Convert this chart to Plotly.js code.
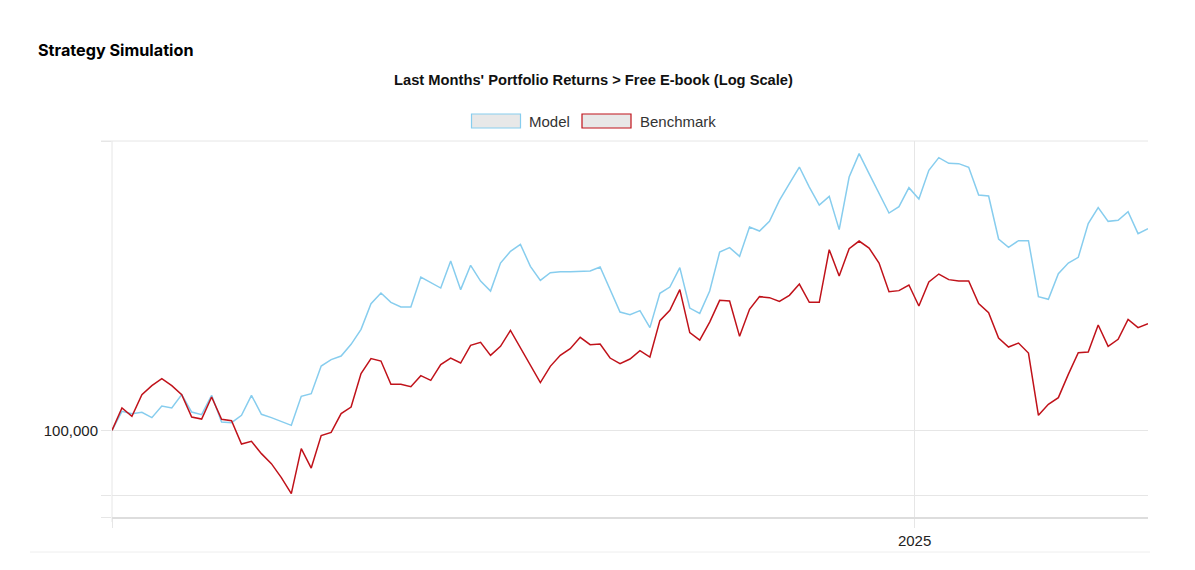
<!DOCTYPE html>
<html>
<head>
<meta charset="utf-8">
<script src="https://cdn.plot.ly/plotly-3.0.1.min.js"></script>
<style>
  html, body { margin: 0; padding: 0; background: #ffffff; }
  #chart { width: 1195px; height: 570px; }
</style>
</head>
<body>
<div id="chart"></div>
<script>
// ---- Data (weekly observations) ----
const dates = [
  "2023-06-17","2023-06-24","2023-07-01","2023-07-08","2023-07-15","2023-07-22","2023-07-29",
  "2023-08-05","2023-08-12","2023-08-19","2023-08-26","2023-09-02","2023-09-09","2023-09-16",
  "2023-09-23","2023-09-30","2023-10-07","2023-10-14","2023-10-21","2023-10-28","2023-11-04",
  "2023-11-11","2023-11-18","2023-11-25","2023-12-02","2023-12-09","2023-12-16","2023-12-23",
  "2023-12-30","2024-01-06","2024-01-13","2024-01-20","2024-01-27","2024-02-03","2024-02-10",
  "2024-02-17","2024-02-24","2024-03-02","2024-03-09","2024-03-16","2024-03-23","2024-03-30",
  "2024-04-06","2024-04-13","2024-04-20","2024-04-27","2024-05-04","2024-05-11","2024-05-18",
  "2024-05-25","2024-06-01","2024-06-08","2024-06-15","2024-06-22","2024-06-29","2024-07-06",
  "2024-07-13","2024-07-20","2024-07-27","2024-08-03","2024-08-10","2024-08-17","2024-08-24",
  "2024-08-31","2024-09-07","2024-09-14","2024-09-21","2024-09-28","2024-10-05","2024-10-12",
  "2024-10-19","2024-10-26","2024-11-02","2024-11-09","2024-11-16","2024-11-23","2024-11-30",
  "2024-12-07","2024-12-14","2024-12-21","2024-12-28","2025-01-04","2025-01-11","2025-01-18",
  "2025-01-25","2025-02-01","2025-02-08","2025-02-15","2025-02-22","2025-03-01","2025-03-08",
  "2025-03-15","2025-03-22","2025-03-29","2025-04-05","2025-04-12","2025-04-19","2025-04-26",
  "2025-05-03","2025-05-10","2025-05-17","2025-05-24","2025-05-31","2025-06-07","2025-06-14"
];

const modelValues = [
  100000,103113,102732,102947,102070,103999,103664,105930,102997,102566,
  105810,101348,101250,102450,105810,102616,102070,101414,100810,105639,
  106101,110932,112084,112737,114888,117701,122684,124801,122942,122013,
  122013,128065,126913,125812,131413,125487,130504,127240,125204,130990,
  133486,135003,130294,127384,128976,129185,129185,129185,129310,130147,
  125548,121033,120525,121306,118025,124740,126015,130021,121816,120778,
  125204,133335,134285,132414,138825,137931,140107,144937,148896,152938,
  148081,143841,145875,138243,150490,156280,151317,146749,141997,143470,
  147938,145242,152126,155275,153853,153779,152864,146182,145947,136162,
  134351,135811,135811,124078,123538,128768,130990,132200,139588,143239,
  140107,140334,142317,137354,138465
];

const benchmarkValues = [
  100000,103664,102285,105930,107480,108700,107480,105930,102169,101840,
  105520,101791,101577,97813,98241,96310,94769,92652,90290,97090,
  94098,99148,99678,102732,103832,109581,112266,111832,107705,107705,
  107306,109227,108402,111183,112374,111471,114701,115258,112865,114516,
  117511,114276,111058,108001,110879,112865,114092,116191,114831,114942,
  112374,111364,112194,113724,112556,119364,121365,125487,117076,115686,
  119094,123339,123200,116379,121561,124078,123878,123140,124339,126627,
  122942,122942,133854,128272,134070,135723,134200,130990,125083,125285,
  126423,122210,127036,128686,127529,127240,127240,122684,120914,116060,
  114386,115127,113284,102450,104284,105418,109457,113358,113467,118519,
  114516,115817,119615,118025,118787
];

const seriesNames = ["Model", "Benchmark"];
const seriesColors = ["#87cdee", "#c0121a"];

const yTickVals = [86950, 90000, 100000, 159400];
const yTickText = ["", "", "100,000", ""];
const xTickVals = ["2023-06-17", "2025-01-01"];
const xTickText = ["", "2025"];

// ---- Layout geometry helpers (pixels -> paper) ----
const W = 1195, H = 570;
const mL = 112, mR = 47, mT = 141, mB = 53;
const pw = W - mL - mR, ph = H - mT - mB;
const px = x => (x - mL) / pw;
const py = y => (H - mB - y) / ph;

const gridColor = "#e6e6e6";
const fontFam = "'Liberation Sans', Arial, sans-serif";

const traces = [
  { x: dates, y: modelValues, name: seriesNames[0], type: "scatter", mode: "lines",
    line: { color: seriesColors[0], width: 1.5 }, hoverinfo: "x+y+name" },
  { x: dates, y: benchmarkValues, name: seriesNames[1], type: "scatter", mode: "lines",
    line: { color: seriesColors[1], width: 1.5 }, hoverinfo: "x+y+name" }
];

const frameShapes = [
  // top gridline (with its outside tick)
  { type: "line", xref: "paper", yref: "paper", x0: px(101), x1: 1, y0: 1, y1: 1,
    line: { color: gridColor, width: 1 }, layer: "below" },
  // left vertical gridline at the first date
  { type: "line", xref: "paper", yref: "paper", x0: 0, x1: 0, y0: 1, y1: py(522),
    line: { color: gridColor, width: 1 }, layer: "below" },
  // legend boxes
  { type: "rect", xref: "paper", yref: "paper", x0: px(471.5), x1: px(520.5), y0: py(128), y1: py(114),
    fillcolor: "#e8e8e8", line: { color: seriesColors[0], width: 1.2 } },
  { type: "rect", xref: "paper", yref: "paper", x0: px(582), x1: px(631), y0: py(128), y1: py(114),
    fillcolor: "#e8e8e8", line: { color: seriesColors[1], width: 1.2 } },
  // bottom separator
  { type: "line", xref: "paper", yref: "paper", x0: px(30), x1: px(1150), y0: py(552), y1: py(552),
    line: { color: "#eeeeee", width: 1 } }
];

const layout = {
  width: W, height: H,
  margin: { l: mL, r: mR, t: mT, b: mB, pad: 0 },
  paper_bgcolor: "#ffffff",
  plot_bgcolor: "#ffffff",
  showlegend: false,
  font: { family: fontFam, size: 15, color: "#222222" },
  title: {
    text: "Last Months' Portfolio Returns > Free E-book (Log Scale)",
    font: { family: fontFam, size: 14.7, color: "#111111", weight: "bold" },
    x: 593.5 / W, xref: "container", xanchor: "center",
    y: 1 - 80 / H, yref: "container", yanchor: "middle"
  },
  xaxis: {
    type: "date",
    range: [dates[0], dates[dates.length - 1]],
    tickmode: "array", tickvals: xTickVals, ticktext: xTickText,
    showgrid: true, gridcolor: gridColor, gridwidth: 1,
    ticks: "outside", ticklen: 9, tickcolor: gridColor, tickwidth: 1,
    showline: true, linecolor: "#dddddd", linewidth: 2,
    zeroline: false,
    tickfont: { family: fontFam, size: 15, color: "#222222" }
  },
  yaxis: {
    type: "log",
    range: [Math.log10(86950), Math.log10(159500)],
    tickmode: "array", tickvals: yTickVals, ticktext: yTickText,
    showgrid: true, gridcolor: gridColor, gridwidth: 1,
    ticks: "outside", ticklen: 10, tickcolor: gridColor, tickwidth: 1,
    showline: false,
    zeroline: false,
    tickfont: { family: fontFam, size: 15, color: "#222222" }
  },
  shapes: frameShapes,
  annotations: [
    { text: "Strategy Simulation", xref: "paper", yref: "paper", x: px(36), y: py(50),
      xanchor: "left", yanchor: "middle", showarrow: false,
      font: { family: "Inter, 'Liberation Sans', Arial, sans-serif", size: 16.2, color: "#000000", weight: "bold" } },
    { text: seriesNames[0], xref: "paper", yref: "paper", x: px(527), y: py(121),
      xanchor: "left", yanchor: "middle", showarrow: false,
      font: { family: fontFam, size: 15, color: "#333333" } },
    { text: seriesNames[1], xref: "paper", yref: "paper", x: px(638), y: py(121),
      xanchor: "left", yanchor: "middle", showarrow: false,
      font: { family: fontFam, size: 15, color: "#333333" } }
  ]
};

Plotly.newPlot("chart", traces, layout, { displayModeBar: false, responsive: false });
</script>
</body>
</html>
